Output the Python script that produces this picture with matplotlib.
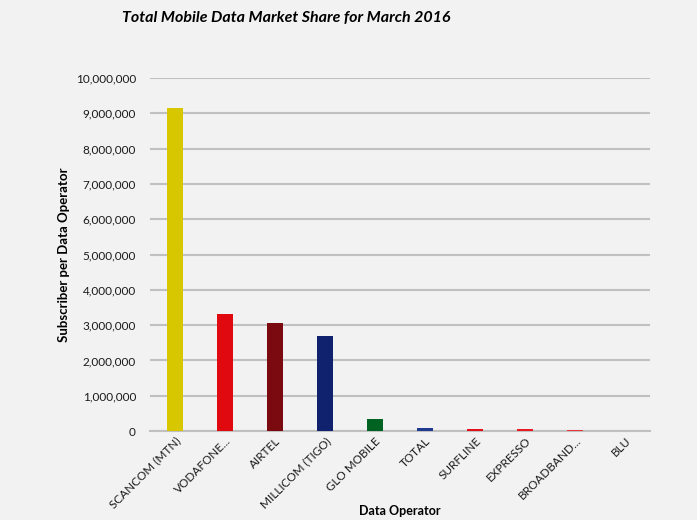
import matplotlib
matplotlib.use("Agg")
import matplotlib.pyplot as plt
from matplotlib.ticker import FuncFormatter

operators = ["SCANCOM (MTN)", "VODAFONE...", "AIRTEL", "MILLICOM (TIGO)", "GLO MOBILE",
             "TOTAL", "SURFLINE", "EXPRESSO", "BROADBAND...", "BLU"]
subscribers = [9150000, 3320000, 3060000, 2690000, 330000, 80000, 60000, 50000, 40000, 5000]
colors = ["#d6c700", "#e0090f", "#7a0a10", "#10226e", "#006322",
          "#1f3a8f", "#e3101a", "#e81a22", "#e8343a", "#e8343a"]

plt.rcParams['font.family'] = ['Lato', 'DejaVu Sans']
bg = "#f2f2f2"
fig = plt.figure(figsize=(6.97, 5.2), dpi=100, facecolor=bg)
ax = fig.add_axes([0.215, 0.171, 0.718, 0.679], facecolor=bg)

x = range(len(operators))
ax.bar(x, subscribers, width=0.32, color=colors, zorder=3)
ax.set_ylim(0, 10000000)
ax.set_xlim(-0.5, len(operators) - 0.5)
ax.set_yticks(range(0, 10000001, 1000000))
ax.yaxis.set_major_formatter(FuncFormatter(lambda v, p: f"{int(v):,}"))
ax.grid(axis='y', color="#c0c0c0", linewidth=1.5, zorder=0)
for s in ["top", "right", "left"]:
    ax.spines[s].set_visible(False)
ax.spines["bottom"].set_color("#c0c0c0")
ax.spines["bottom"].set_linewidth(1.5)
ax.tick_params(axis='both', length=0, labelsize=8.5, colors="#1a1a1a")
ax.tick_params(axis='y', pad=10)
ax.tick_params(axis='x', pad=3)
ax.set_xticks(list(x))
ax.set_xticklabels(operators, rotation=45, ha='right', rotation_mode='anchor')
ax.set_ylabel("Subscriber per Data Operator", fontsize=9.5, fontweight='bold', labelpad=4)
fig.text(0.574, 0.018, "Data Operator", ha='center', va='center', fontsize=9, fontweight='bold')
fig.text(0.41, 0.965, "Total Mobile Data Market Share for March 2016", ha='center', va='center',
         fontsize=11.5, fontweight='bold', style='italic')
fig.savefig("out.png", dpi=100, facecolor=bg)
